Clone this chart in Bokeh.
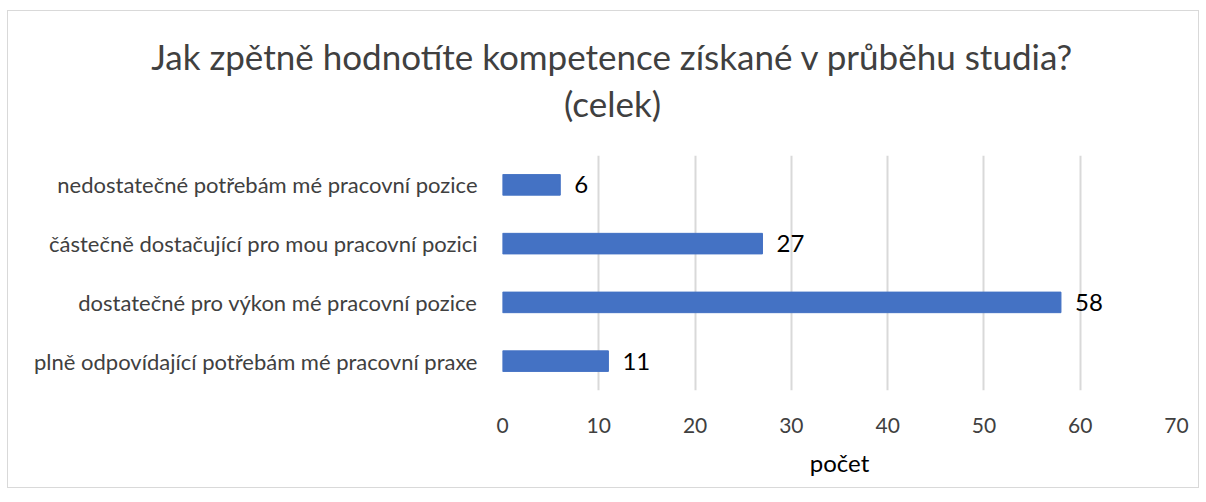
from bokeh.plotting import figure
from bokeh.layouts import column
from bokeh.models import FactorRange, ColumnDataSource, Label, FixedTicker, Range1d
from bokeh.core.properties import value
from bokeh.embed import file_html
from bokeh.resources import INLINE

categories = [
    "nedostatečné potřebám mé pracovní pozice",
    "částečně dostačující pro mou pracovní pozici",
    "dostatečné pro výkon mé pracovní pozice",
    "plně odpovídající potřebám mé pracovní praxe",
]
counts = [6, 27, 58, 11]
x_ticks = [0, 10, 20, 30, 40, 50, 60, 70]
title_line1 = "Jak zpětně hodnotíte kompetence získané v průběhu studia?"
title_line2 = "(celek)"
x_label = "počet"

FONT = "Lato"
TXT = "#404040"
W = 1190

# --- title strip (a plain canvas holding the two title lines) ---
TH = 144
tf = figure(width=W, height=TH, x_range=Range1d(0, W), y_range=Range1d(0, TH),
            output_backend="svg", toolbar_location=None,
            min_border_left=0, min_border_right=0, min_border_top=0, min_border_bottom=0)
tf.frame_align = False
tf.axis.visible = False
tf.grid.visible = False
tf.outline_line_color = None
for txt, ypos in ((title_line1, TH - 44), (title_line2, TH - 91)):
    tf.add_layout(Label(x=604, y=ypos, text=txt, text_align="center",
                        text_baseline="middle", text_font=FONT,
                        text_font_size="35px", text_color=TXT))

# --- main chart ---
src = ColumnDataSource(dict(cat=categories, val=counts, lab=[str(v) for v in counts]))

p = figure(
    width=W, height=332,
    y_range=FactorRange(*reversed(categories)),
    x_range=(0, 70),
    output_backend="svg", toolbar_location=None,
    min_border_left=494, min_border_right=22, min_border_bottom=97, min_border_top=0,
)
p.frame_align = False

p.hbar(y="cat", right="val", left=0, height=0.35, source=src, color="#4472C4")
p.text(x="val", y="cat", text="lab", source=src, x_offset=14,
       text_baseline="middle", text_align="left", text_color="black",
       text_font=value(FONT), text_font_size="24px")

p.xaxis.ticker = FixedTicker(ticks=x_ticks)
p.xaxis.axis_label = x_label
for ax in (p.xaxis[0], p.yaxis[0]):
    ax.axis_line_color = None
    ax.major_tick_line_color = None
    ax.minor_tick_line_color = None
    ax.major_label_text_font = FONT
    ax.major_label_text_color = TXT
p.xaxis.major_label_text_font_size = "21px"
p.xaxis.major_label_standoff = 21
p.xaxis.axis_label_text_font = FONT
p.xaxis.axis_label_text_font_size = "24px"
p.xaxis.axis_label_text_font_style = "normal"
p.xaxis.axis_label_text_color = "black"
p.xaxis.axis_label_standoff = 12
p.yaxis.major_label_text_font_size = "22px"
p.yaxis.major_label_standoff = 19

p.ygrid.grid_line_color = None
p.xgrid.grid_line_color = "#d9d9d9"
p.xgrid.grid_line_width = 2
p.outline_line_color = None

layout = column(tf, p, spacing=0, margin=(10, 0, 0, 7),
                styles={"border": "1px solid #d9d9d9"})

open("out.html", "w").write(file_html(layout, INLINE))
